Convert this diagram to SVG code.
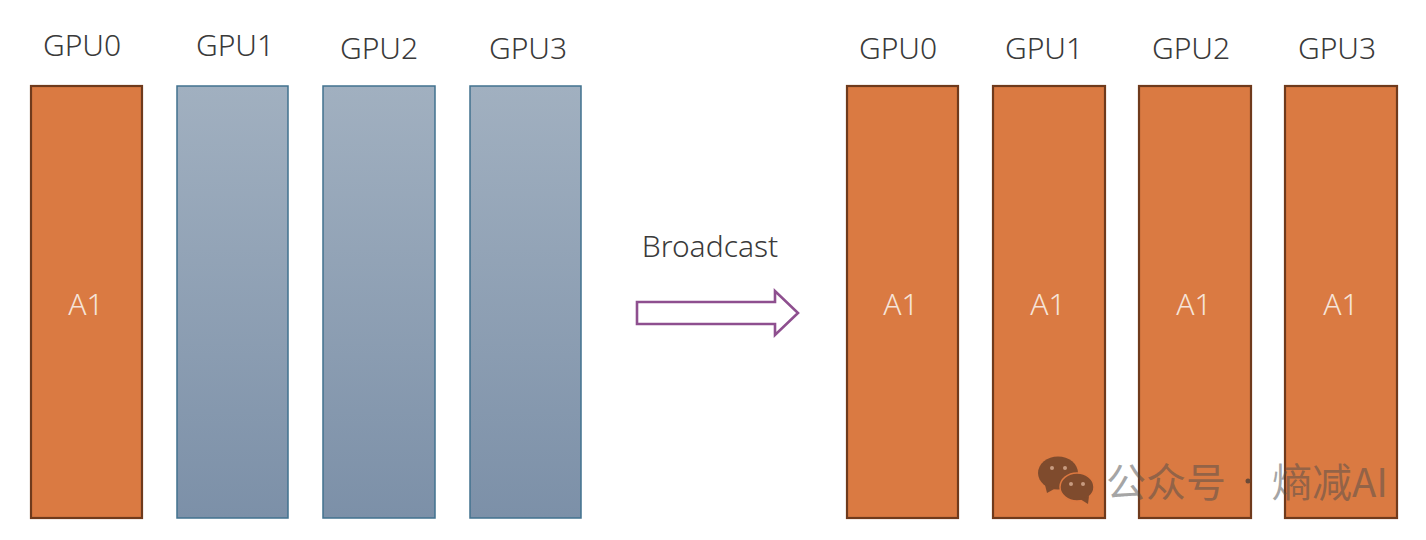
<svg xmlns="http://www.w3.org/2000/svg" width="1426" height="540" viewBox="0 0 1426 540">
<style>
text{font-family:"Noto Sans","Noto Sans CJK SC",sans-serif;font-weight:300}
.g{font-size:30px;fill:#3a3a3a;text-anchor:middle}
.a{font-size:30px;fill:#f6e4d8;text-anchor:middle}
.o{fill:#da7a42;stroke:#6f3a1c;stroke-width:2.2}
.b{fill:url(#bg);stroke:#41728f;stroke-width:1.5}
.wm{font-size:40px;fill:#4c4c4c;fill-opacity:.5;font-weight:400;font-family:"Noto Sans CJK SC",sans-serif}
</style>
<defs>
<linearGradient id="bg" x1="0" y1="0" x2="0" y2="1"><stop offset="0" stop-color="#a1b0c0"/><stop offset="1" stop-color="#7c90a8"/></linearGradient>
</defs>
<rect width="1426" height="540" fill="#fff"/>
<g id="left-gpu0"><rect class="o" x="31" y="86" width="111" height="432"/><text class="g" x="82" y="56">GPU0</text><text class="a" x="86" y="315">A1</text></g>
<g id="left-gpu1"><rect class="b" x="177" y="86" width="111" height="432"/><text class="g" x="235" y="56">GPU1</text></g>
<g id="left-gpu2"><rect class="b" x="323" y="86" width="112" height="432"/><text class="g" x="379" y="59">GPU2</text></g>
<g id="left-gpu3"><rect class="b" x="470" y="86" width="111" height="432"/><text class="g" x="528" y="59">GPU3</text></g>
<g id="connectors"><path d="M637 302H775V291L798 313L775 335V324H637Z" fill="#fff" stroke="#8e4f8f" stroke-width="2.6"/><text x="710" y="257" font-size="30" fill="#3a3a3a" text-anchor="middle">Broadcast</text></g>
<g id="right-gpu0"><rect class="o" x="847" y="86" width="111" height="432"/><text class="g" x="898" y="59">GPU0</text><text class="a" x="901" y="315">A1</text></g>
<g id="right-gpu1"><rect class="o" x="993" y="86" width="112" height="432"/><text class="g" x="1044" y="59">GPU1</text><text class="a" x="1048" y="315">A1</text></g>
<g id="right-gpu2"><rect class="o" x="1139" y="86" width="112" height="432"/><text class="g" x="1191" y="59">GPU2</text><text class="a" x="1194" y="315">A1</text></g>
<g id="right-gpu3"><rect class="o" x="1285" y="86" width="112" height="432"/><text class="g" x="1337" y="59">GPU3</text><text class="a" x="1341" y="315">A1</text></g>
<g id="watermark"><ellipse cx="1058" cy="473" rx="20" ry="16.500" fill="#7f4b2d"/><path d="M1045 485l2 8 9-5z" fill="#7f4b2d"/><ellipse cx="1077" cy="487" rx="17" ry="14" fill="#7f4b2d" stroke="#dc7840" stroke-width="1.500"/><path d="M1080 499l8 5 1-8z" fill="#7f4b2d"/><circle cx="1052" cy="468" r="2" fill="#c79b80"/><circle cx="1065" cy="468" r="2" fill="#c79b80"/><circle cx="1071" cy="484" r="2" fill="#c79b80"/><circle cx="1083" cy="484" r="2" fill="#c79b80"/><text class="wm" x="1106" y="497">公众号</text><circle cx="1248" cy="481" r="2.500" fill="#6a4a38"/><text class="wm" x="1272" y="497">熵减AI</text></g>
</svg>
